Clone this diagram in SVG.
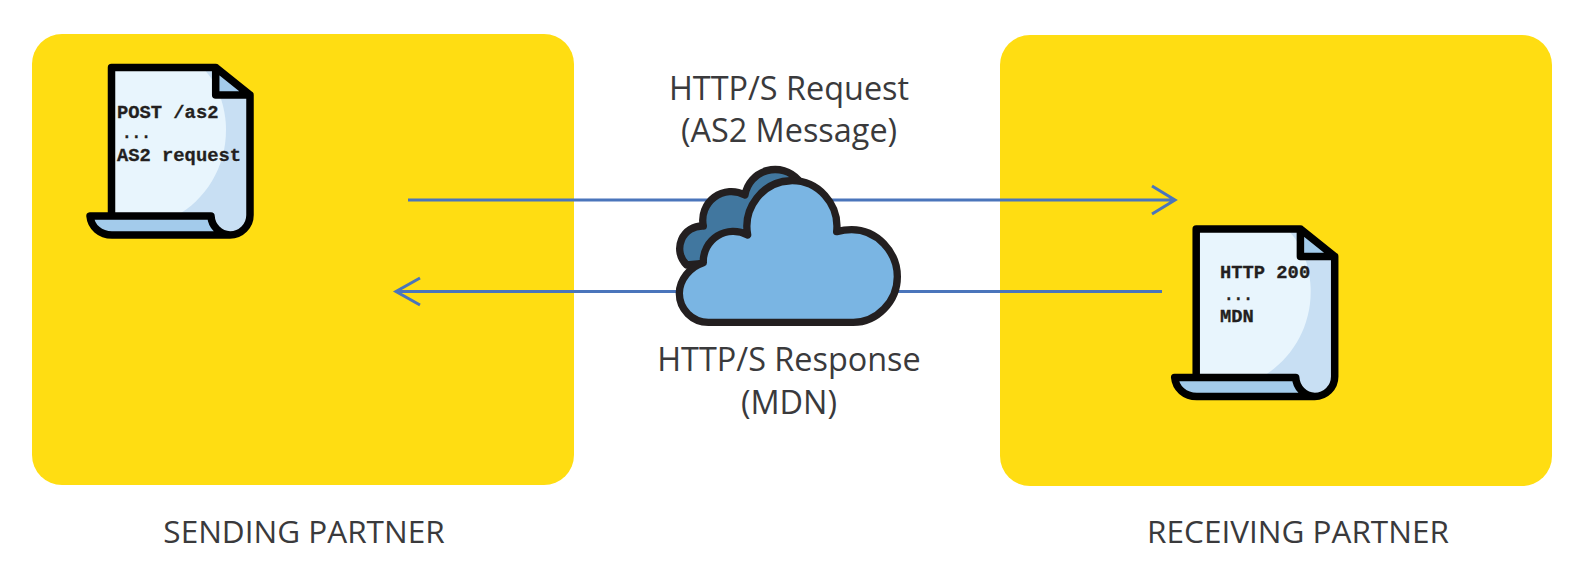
<svg xmlns="http://www.w3.org/2000/svg" width="1584" height="577" viewBox="0 0 1584 577">
<style>
.panel{fill:#FFDD12}
.conn{fill:none;stroke:#4A75BB;stroke-width:3}
.lbl{font-family:"Open Sans","Noto Sans",sans-serif;font-size:32.400px;fill:#3A3A3C;text-anchor:middle}
.cap{font-family:"Open Sans","Noto Sans",sans-serif;font-size:31.500px;fill:#3A3A3C;text-anchor:middle}
.code{font-family:"Liberation Mono",monospace;font-weight:700;font-size:18.800px;fill:#231F20;stroke:#231F20;stroke-width:.3}
.dots{font-family:"Liberation Mono",monospace;font-weight:700;font-size:16px;fill:#231F20;stroke:#231F20;stroke-width:.3}
.ink{stroke:#000;stroke-width:7.500;stroke-linejoin:round;stroke-linecap:round}
.cl{stroke:#231F20;stroke-width:22;stroke-linejoin:round}
</style>
<defs>
<g id="doc">
<path d="M111.500 67.500H215.700L250 95V215A20 20 0 0 1 230 235A20 20 0 0 1 211 216H111.500Z" fill="#C8DFF3"/>
<path d="M111.500 67.500H202C218 82 226 108 226 130C226 168 205 200 176 216H111.500Z" fill="#E8F5FD"/>
<path d="M215.700 67.500L250 95H215.700Z" fill="#A3CBEB"/>
<path d="M90 216H211C212 226 219 235 230 235H112C100 235 91 226 90 216Z" fill="#A3CBEB"/>
<path class="ink" fill="none" d="M111.500 216V67.500H215.700L250 95V215A20 20 0 0 1 230 235H112C100 235 91 227 90 216H211A20 20 0 0 0 230 235M215.700 67.500V95H250"/>
</g>
</defs>
<g id="sending-partner">
<rect class="panel" x="32" y="34" width="542" height="451" rx="30"/>
<use href="#doc"/>
<text class="code" x="117" y="118">POST /as2</text>
<text class="dots" x="122" y="138">...</text>
<text class="code" x="117" y="161">AS2 request</text>
<text class="cap" x="304" y="543">SENDING PARTNER</text>
</g>
<g id="receiving-partner">
<rect class="panel" x="1000" y="35" width="552" height="451" rx="30"/>
<use href="#doc" transform="translate(1084.700 161.500)"/>
<text class="code" x="1220" y="278">HTTP 200</text>
<text class="dots" x="1224" y="300">...</text>
<text class="code" x="1220" y="322">MDN</text>
<text class="cap" x="1298" y="543">RECEIVING PARTNER</text>
</g>
<g id="connectors">
<path class="conn" d="M408 200H1174M1152 186L1175 200L1152 214"/>
<path class="conn" d="M1162 291.500H397M420 278L396 291.500L420 305"/>
</g>
<g id="cloud" transform="translate(650 150) scale(.33333)">
<path class="cl" fill="#41779F" d="M110 345A68 68 0 0 1 160 228A86 86 0 0 1 285 135A92 92 0 0 1 445 90L300 300L160 340Z"/>
<path class="cl" fill="#7AB5E3" d="M175 517A87 87 0 0 1 88 430C88 390 120 350 160 338A90 90 0 0 1 293 255A135 138 0 1 1 560 245C575 241 590 239 605 239C680 239 742 305 742 380C742 455 680 517 610 517Z"/>
</g>
<g id="labels">
<text class="lbl" x="789" y="100">HTTP/S Request</text>
<text class="lbl" x="789" y="142">(AS2 Message)</text>
<text class="lbl" x="789" y="371">HTTP/S Response</text>
<text class="lbl" x="789" y="414">(MDN)</text>
</g>
</svg>
